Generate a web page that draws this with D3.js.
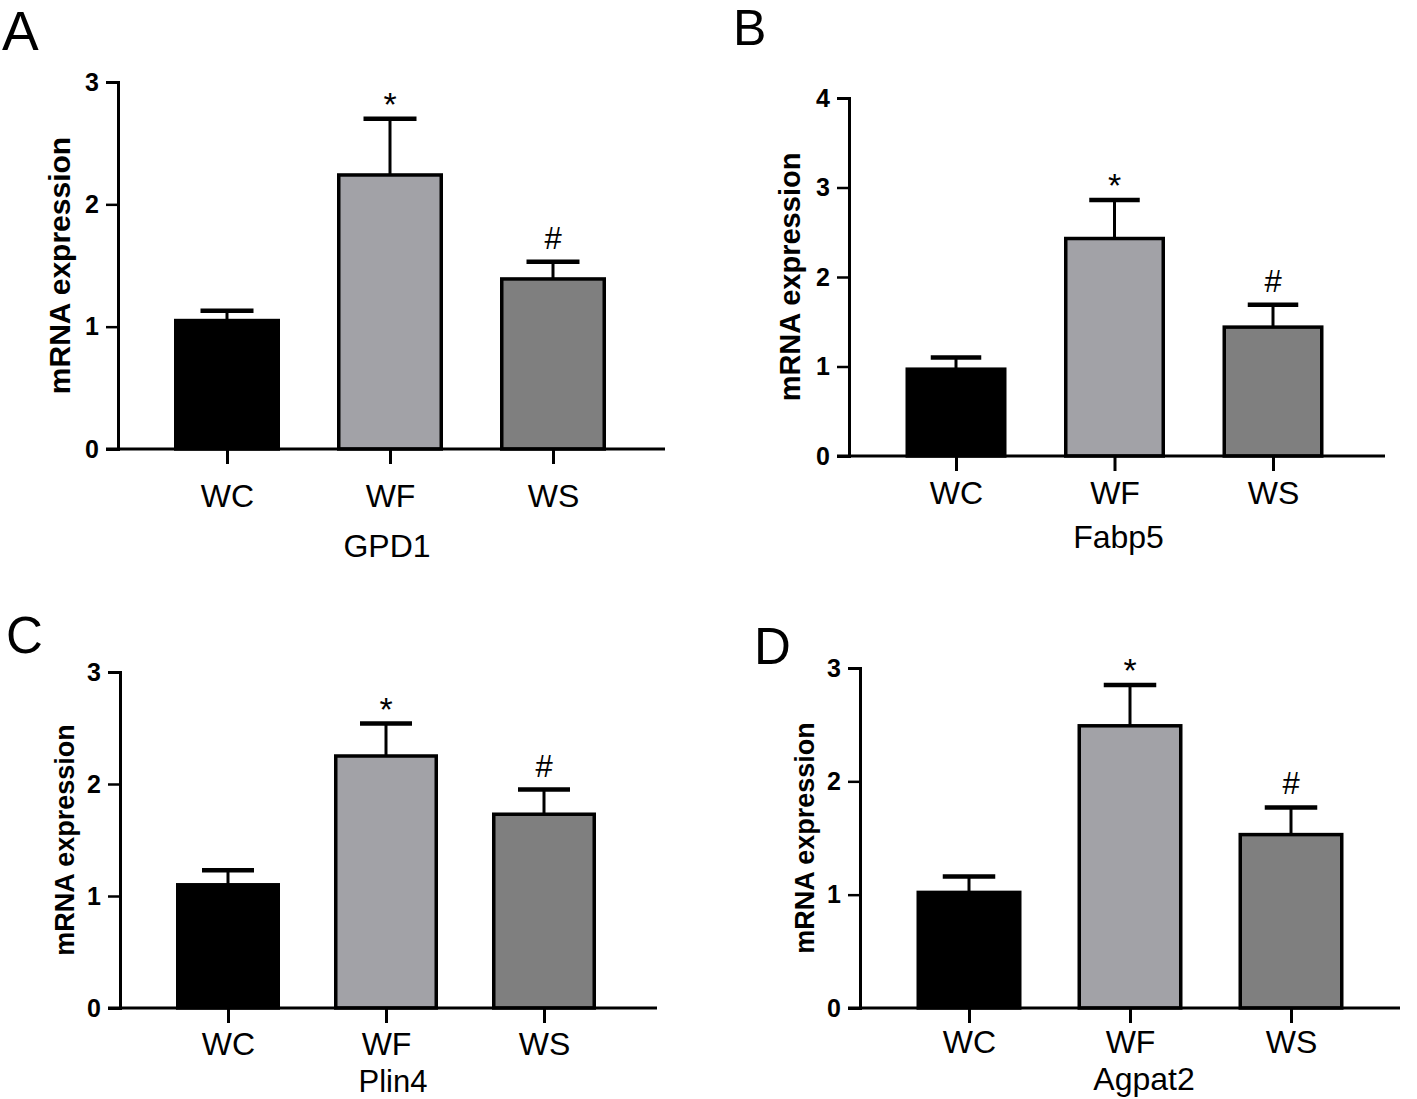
<!DOCTYPE html>
<html>
<head>
<meta charset="utf-8">
<script src="https://cdn.jsdelivr.net/npm/d3@7"></script>
<style>
  body { margin: 0; background: #fff; }
  svg { display: block; font-family: "Liberation Sans", Arial, sans-serif; }
</style>
</head>
<body>
<svg width="1417" height="1099"></svg>
<script>
// values
const groups = ["WC", "WF", "WS"];
const marks = ["", "*", "#"];
const barColors = ["#000000", "#a2a2a7", "#7f7f7f"];

const gpd1Mean = [1.05, 2.24, 1.39];
const gpd1Err = [0.08, 0.46, 0.14];
const fabp5Mean = [0.97, 2.43, 1.44];
const fabp5Err = [0.13, 0.43, 0.25];
const plin4Mean = [1.10, 2.25, 1.73];
const plin4Err = [0.13, 0.29, 0.22];
const agpat2Mean = [1.02, 2.49, 1.53];
const agpat2Err = [0.14, 0.36, 0.24];

const ticks3 = [0, 1, 2, 3];
const ticks4 = [0, 1, 2, 3, 4];

const panels = [
  { letter: "A", gene: "GPD1", mean: gpd1Mean, err: gpd1Err, ticks: ticks3,
    ax: 118, y0: 449, yTop: 82, xEnd: 665, c0: 227, c1: 553, bw: 106,
    labBase: 507, geneBase: 557, geneDx: -3, titleX: 70, titleFs: 30,
    lx: 2, lBase: 50, lFs: 55 },
  { letter: "B", gene: "Fabp5", mean: fabp5Mean, err: fabp5Err, ticks: ticks4,
    ax: 849, y0: 456, yTop: 98, xEnd: 1385, c0: 956, c1: 1273, bw: 101,
    labBase: 504, geneBase: 548, geneDx: 4, titleX: 800, titleFs: 29,
    lx: 733, lBase: 45, lFs: 50 },
  { letter: "C", gene: "Plin4", mean: plin4Mean, err: plin4Err, ticks: ticks3,
    ax: 120, y0: 1008, yTop: 672, xEnd: 657, c0: 228, c1: 544, bw: 104,
    labBase: 1055, geneBase: 1092, geneDx: 7, titleX: 74, titleFs: 27,
    lx: 6, lBase: 653, lFs: 51 },
  { letter: "D", gene: "Agpat2", mean: agpat2Mean, err: agpat2Err, ticks: ticks3,
    ax: 860, y0: 1008, yTop: 668, xEnd: 1400, c0: 969, c1: 1291, bw: 105,
    labBase: 1053, geneBase: 1090, geneDx: 14, titleX: 814, titleFs: 27,
    lx: 754, lBase: 664, lFs: 51 }
];

const svg = d3.select("svg");

panels.forEach(function (p) {
  const g = svg.append("g").attr("class", "panel");
  const ymax = d3.max(p.ticks);
  const barStroke = 3.5;

  const y = d3.scaleLinear().domain([0, ymax]).range([p.y0, p.yTop]);
  const x = d3.scalePoint().domain(groups).range([p.c0, p.c1]);

  const rows = groups.map((k, i) => ({
    key: k, mean: p.mean[i], err: p.err[i], mark: marks[i], color: barColors[i]
  }));

  // panel letter
  g.append("text")
    .attr("x", p.lx)
    .attr("y", p.lBase)
    .attr("font-size", p.lFs)
    .text(p.letter);

  // error bars (upper only)
  g.selectAll(".err")
    .data(rows)
    .join("line")
    .attr("x1", (d) => x(d.key))
    .attr("x2", (d) => x(d.key))
    .attr("y1", (d) => y(d.mean))
    .attr("y2", (d) => y(d.mean + d.err))
    .attr("stroke", "#000")
    .attr("stroke-width", 3);

  g.selectAll(".cap")
    .data(rows)
    .join("line")
    .attr("x1", (d) => x(d.key) - p.bw / 4)
    .attr("x2", (d) => x(d.key) + p.bw / 4)
    .attr("y1", (d) => y(d.mean + d.err))
    .attr("y2", (d) => y(d.mean + d.err))
    .attr("stroke", "#000")
    .attr("stroke-width", 4.5);

  // bars
  g.selectAll(".bar")
    .data(rows)
    .join("rect")
    .attr("x", (d) => x(d.key) - (p.bw - barStroke) / 2)
    .attr("width", p.bw - barStroke)
    .attr("y", (d) => y(d.mean))
    .attr("height", (d) => p.y0 - y(d.mean))
    .attr("fill", (d) => d.color)
    .attr("stroke", "#000")
    .attr("stroke-width", barStroke);

  // significance marks
  g.selectAll(".mark")
    .data(rows.filter((d) => d.mark))
    .join("text")
    .attr("x", (d) => x(d.key))
    .attr("y", (d) => y(d.mean + d.err) - (d.mark === "*" ? 3 : 13))
    .attr("text-anchor", "middle")
    .attr("font-size", (d) => (d.mark === "*" ? 34 : 31))
    .text((d) => d.mark);

  // y axis
  const yAxis = g.append("g")
    .attr("transform", `translate(${p.ax},0)`)
    .call(d3.axisLeft(y).tickValues(p.ticks).tickSize(12).tickPadding(7)
      .tickFormat(d3.format("d")));
  yAxis.select(".domain").attr("stroke-width", 3);
  yAxis.selectAll(".tick line").attr("stroke-width", 2.5);
  yAxis.selectAll(".tick text")
    .attr("font-size", 25)
    .attr("font-weight", "bold")
    .attr("fill", "#000")
    .attr("font-family", "Liberation Sans, Arial, sans-serif");

  // x axis baseline
  g.append("line")
    .attr("x1", p.ax - 12)
    .attr("x2", p.xEnd)
    .attr("y1", p.y0)
    .attr("y2", p.y0)
    .attr("stroke", "#000")
    .attr("stroke-width", 3);

  const labFs = 32;
  const xAxis = g.append("g")
    .attr("transform", `translate(0,${p.y0})`)
    .call(d3.axisBottom(x).tickSize(15)
      .tickPadding(p.labBase - p.y0 - 15 - 0.71 * labFs));
  xAxis.select(".domain").remove();
  xAxis.selectAll(".tick line").attr("stroke-width", 3);
  xAxis.selectAll(".tick text")
    .attr("font-size", labFs)
    .attr("fill", "#000")
    .attr("font-family", "Liberation Sans, Arial, sans-serif");

  // gene name under the axis
  g.append("text")
    .attr("x", x(groups[1]) + p.geneDx)
    .attr("y", p.geneBase)
    .attr("text-anchor", "middle")
    .attr("font-size", p.letter === "C" ? 31 : 32)
    .text(p.gene);

  // y axis title
  g.append("text")
    .attr("transform", `translate(${p.titleX},${(p.y0 + p.yTop) / 2}) rotate(-90)`)
    .attr("text-anchor", "middle")
    .attr("font-size", p.titleFs)
    .attr("font-weight", "bold")
    .text("mRNA expression");
});
</script>
</body>
</html>
